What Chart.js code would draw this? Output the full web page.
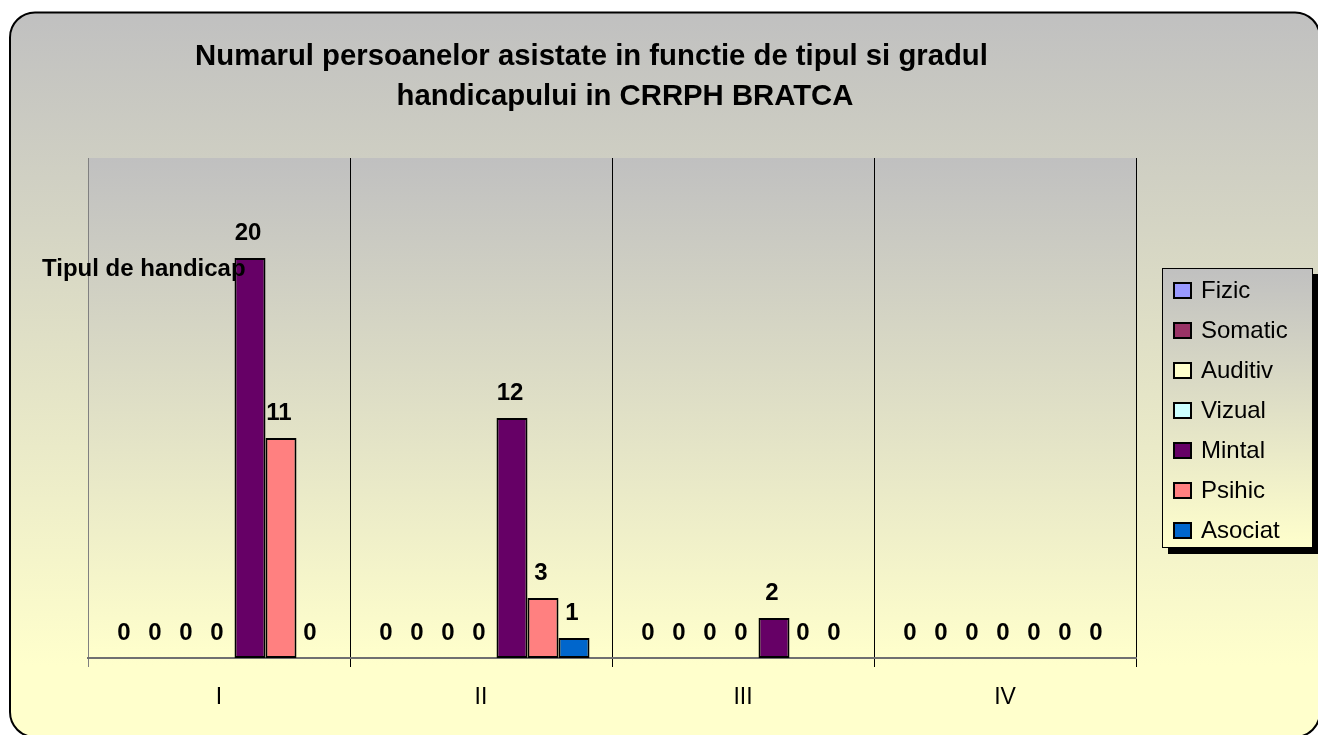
<!DOCTYPE html>
<html><head><meta charset="utf-8">
<script src="https://cdn.jsdelivr.net/npm/chart.js@4/dist/chart.umd.min.js"></script>
<style>html,body{margin:0;padding:0;background:#fff;}#wrap{width:1318px;height:735px;position:relative}</style>
</head><body><div id="wrap"><canvas id="c" width="1318" height="735"></canvas></div>
<script>
const categories = ['I', 'II', 'III', 'IV'];
const seriesNames = ['Fizic', 'Somatic', 'Auditiv', 'Vizual', 'Mintal', 'Psihic', 'Asociat'];
const fizic = [0, 0, 0, 0];
const somatic = [0, 0, 0, 0];
const auditiv = [0, 0, 0, 0];
const vizual = [0, 0, 0, 0];
const mintal = [20, 12, 2, 0];
const psihic = [11, 3, 0, 0];
const asociat = [0, 1, 0, 0];
const seriesColors = ['#9999FF', '#993366', '#FFFFCC', '#CCFFFF', '#660066', '#FF8080', '#0066CC'];
const titleLines = ['Numarul persoanelor asistate in functie de tipul si gradul', 'handicapului in CRRPH BRATCA'];
const seriesAxisTitle = 'Tipul de handicap';
const yMin = 0, yMax = 25;

const FONT = '"Liberation Sans", Arial, sans-serif';
const seriesValues = [fizic, somatic, auditiv, vizual, mintal, psihic, asociat];

const datasets = seriesNames.map((name, i) => ({
  label: name,
  data: seriesValues[i],
  backgroundColor: seriesColors[i],
  borderColor: '#000',
  borderWidth: ctx => (ctx.raw === 0 ? 0 : 2),
  borderSkipped: false
}));

function vGrad(ctx, y0, y1) {
  const g = ctx.createLinearGradient(0, y0, 0, y1);
  g.addColorStop(0, '#c0c0c0');
  g.addColorStop(1, '#ffffcc');
  return g;
}

const bgPlugin = {
  id: 'bg',
  beforeDraw(chart) {
    const ctx = chart.ctx, ca = chart.chartArea;
    ctx.save();
    ctx.fillStyle = '#fff';
    ctx.fillRect(0, 0, chart.width, chart.height);
    const x0 = 10, y0 = 12.5, x1 = 1320, y1 = 737, r = 25;
    ctx.beginPath();
    ctx.moveTo(x0 + r, y0);
    ctx.lineTo(x1 - r, y0);
    ctx.arcTo(x1, y0, x1, y0 + r, r);
    ctx.lineTo(x1, y1 - r);
    ctx.arcTo(x1, y1, x1 - r, y1, r);
    ctx.lineTo(x0 + r, y1);
    ctx.arcTo(x0, y1, x0, y1 - r, r);
    ctx.lineTo(x0, y0 + r);
    ctx.arcTo(x0, y0, x0 + r, y0, r);
    ctx.closePath();
    ctx.fillStyle = vGrad(ctx, 12, 665);
    ctx.fill();
    ctx.lineWidth = 2;
    ctx.strokeStyle = '#000';
    ctx.stroke();
    ctx.fillStyle = vGrad(ctx, ca.top, ca.bottom);
    ctx.fillRect(ca.left, ca.top, ca.right - ca.left, ca.bottom - ca.top);
    ctx.restore();
  },
  afterDatasetsDraw(chart) {
    const ctx = chart.ctx;
    ctx.save();
    ctx.font = 'bold 24px ' + FONT;
    ctx.fillStyle = '#000';
    ctx.textAlign = 'center';
    ctx.textBaseline = 'alphabetic';
    chart.data.datasets.forEach((ds, di) => {
      const meta = chart.getDatasetMeta(di);
      meta.data.forEach((el, i) => {
        ctx.fillText(String(ds.data[i]), el.x - 2, el.y - 18);
      });
    });
    ctx.restore();
  },
  afterDraw(chart) {
    const ctx = chart.ctx;
    ctx.save();
    ctx.fillStyle = '#000';
    ctx.font = 'bold 29.3px ' + FONT;
    ctx.textAlign = 'center';
    ctx.textBaseline = 'alphabetic';
    ctx.fillText(titleLines[0], 591.5, 65);
    ctx.fillText(titleLines[1], 625, 105);
    ctx.font = 'bold 24px ' + FONT;
    ctx.textAlign = 'left';
    ctx.fillText(seriesAxisTitle, 42, 276);
    const lx = 1162, ly = 268, lw = 151, lh = 280;
    ctx.fillStyle = '#000';
    ctx.fillRect(lx + 6, ly + 6, lw, lh);
    ctx.fillStyle = vGrad(ctx, ly, ly + lh);
    ctx.fillRect(lx, ly, lw, lh);
    ctx.lineWidth = 1;
    ctx.strokeStyle = '#000';
    ctx.strokeRect(lx + 0.5, ly + 0.5, lw - 1, lh - 1);
    ctx.font = '24px ' + FONT;
    ctx.textAlign = 'left';
    chart.data.datasets.forEach((ds, i) => {
      const cy = 290 + i * 40;
      ctx.fillStyle = ds.backgroundColor;
      ctx.fillRect(1174, cy - 7, 17, 15);
      ctx.lineWidth = 2;
      ctx.strokeStyle = '#000';
      ctx.strokeRect(1174, cy - 7, 17, 15);
      ctx.fillStyle = '#000';
      ctx.fillText(ds.label, 1201, cy + 7.5);
    });
    ctx.restore();
  }
};

new Chart(document.getElementById('c'), {
  type: 'bar',
  data: { labels: categories, datasets },
  options: {
    responsive: false,
    animation: false,
    devicePixelRatio: 1,
    layout: { padding: { left: 88, top: 158, right: 182, bottom: 0 } },
    categoryPercentage: 217 / 262,
    barPercentage: 1,
    plugins: { legend: { display: false }, title: { display: false }, tooltip: { enabled: false } },
    scales: {
      x: {
        offset: true,
        afterFit: s => { s.height = 77; },
        grid: {
          offset: true,
          drawOnChartArea: true,
          drawTicks: true,
          tickLength: 9,
          lineWidth: 1,
          color: ctx => (ctx.index === 0 ? '#808080' : '#000')
        },
        border: { display: true, color: '#707070', width: 2 },
        ticks: { color: '#000', font: { family: FONT, size: 23 }, padding: 17, maxRotation: 0 }
      },
      y: {
        display: false,
        min: yMin,
        max: yMax
      }
    }
  },
  plugins: [bgPlugin]
});
</script>
</body></html>
